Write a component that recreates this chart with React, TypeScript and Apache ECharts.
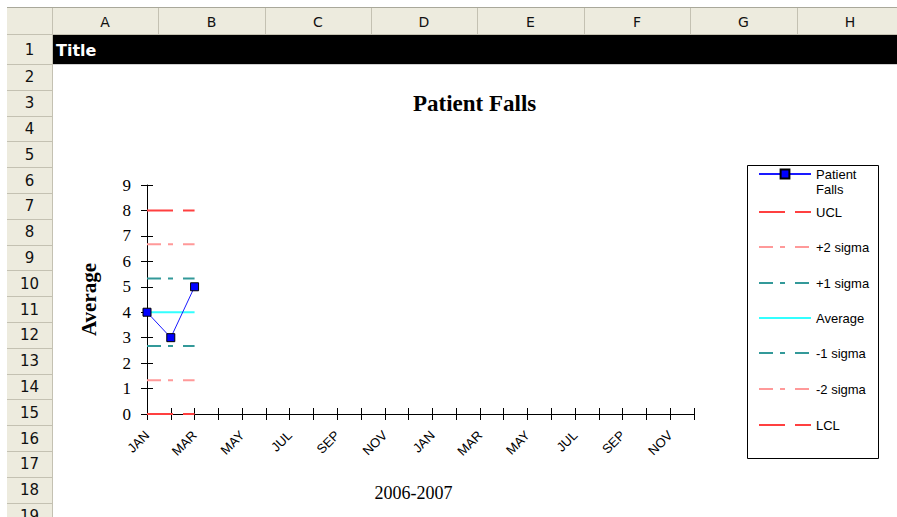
import React, { useEffect, useRef } from "react";
import * as echarts from "echarts";

const months = [
  "JAN", "FEB", "MAR", "APR", "MAY", "JUN", "JUL", "AUG", "SEP", "OCT", "NOV", "DEC",
  "JAN", "FEB", "MAR", "APR", "MAY", "JUN", "JUL", "AUG", "SEP", "OCT", "NOV", "DEC",
];
const patientFalls = [4, 3, 5];
const ucl = [8, 8, 8];
const plus2Sigma = [6.67, 6.67, 6.67];
const plus1Sigma = [5.33, 5.33, 5.33];
const average = [4, 4, 4];
const minus1Sigma = [2.67, 2.67, 2.67];
const minus2Sigma = [1.33, 1.33, 1.33];
const lcl = [0, 0, 0];
const columnLetters = ["A", "B", "C", "D", "E", "F", "G", "H"];
const rowNumbers = ["1", "2", "3", "4", "5", "6", "7", "8", "9", "10", "11", "12", "13", "14", "15", "16", "17", "18", "19"];

const SANS = "'Liberation Sans', Arial, sans-serif";
const HEADER_FONT = "'DejaVu Sans', Tahoma, sans-serif";
const SERIF = "'Liberation Serif', 'Times New Roman', serif";
const HEADER_BG = "#EDEBDE";
const HEADER_LINE = "#C4C1B2";

const RED = "#FF4040";
const PINK = "#FF9999";
const TEAL = "#339999";
const CYAN = "#33FFFF";
const LONG_DASH = [26, 10];
const DASH_DOT = [14, 7, 5, 10];

function buildFrame() {
  const g: any[] = [];
  const colEdges = [52, 158, 265, 371, 477, 584, 690, 797, 903];
  const rowEdges: number[] = [35, 64];
  for (let i = 1; i < rowNumbers.length; i++) rowEdges.push(64 + i * 25.8);
  g.push({ type: "rect", silent: true, shape: { x: 7, y: 8, width: 890, height: 27 }, style: { fill: HEADER_BG } });
  g.push({ type: "rect", silent: true, shape: { x: 7, y: 35, width: 45, height: 482 }, style: { fill: HEADER_BG } });
  g.push({ type: "rect", silent: true, shape: { x: 53, y: 35, width: 844, height: 29 }, style: { fill: "#000" } });
  g.push({ type: "line", silent: true, shape: { x1: 7, y1: 7.5, x2: 897, y2: 7.5 }, style: { stroke: "#A9A89A", lineWidth: 1 } });
  g.push({ type: "line", silent: true, shape: { x1: 7, y1: 34.5, x2: 897, y2: 34.5 }, style: { stroke: HEADER_LINE, lineWidth: 1 } });
  g.push({ type: "line", silent: true, shape: { x1: 52.5, y1: 8, x2: 52.5, y2: 517 }, style: { stroke: HEADER_LINE, lineWidth: 1 } });
  g.push({ type: "line", silent: true, shape: { x1: 53, y1: 64.5, x2: 897, y2: 64.5 }, style: { stroke: "#D0D0D0", lineWidth: 1 } });
  for (let i = 1; i < colEdges.length - 1; i++) {
    g.push({ type: "line", silent: true, shape: { x1: colEdges[i] + 0.5, y1: 8, x2: colEdges[i] + 0.5, y2: 34 }, style: { stroke: HEADER_LINE, lineWidth: 1 } });
  }
  columnLetters.forEach((c, i) => {
    g.push({
      type: "text", silent: true,
      style: { x: (colEdges[i] + colEdges[i + 1]) / 2, y: 21.5, text: c, fill: "#111", font: `14px ${HEADER_FONT}`, align: "center", verticalAlign: "middle" },
    });
  });
  rowNumbers.forEach((r, i) => {
    const y0 = rowEdges[i];
    const y1 = i + 1 < rowEdges.length ? rowEdges[i + 1] : y0 + 25.8;
    g.push({ type: "line", silent: true, shape: { x1: 7, y1: Math.round(y1) + 0.5, x2: 52, y2: Math.round(y1) + 0.5 }, style: { stroke: HEADER_LINE, lineWidth: 1 } });
    g.push({
      type: "text", silent: true,
      style: { x: 29.5, y: (y0 + y1) / 2 + 0.5, text: r, fill: "#111", font: `15px ${HEADER_FONT}`, align: "center", verticalAlign: "middle" },
    });
  });
  g.push({
    type: "text", silent: true,
    style: { x: 56, y: 50, text: "Title", fill: "#fff", font: `bold 16px ${HEADER_FONT}`, align: "left", verticalAlign: "middle" },
  });
  g.push({
    type: "rect", silent: true, z: 10,
    shape: { x: 747.5, y: 165.5, width: 131, height: 293 },
    style: { fill: "none", stroke: "#000", lineWidth: 1 },
  });
  return g;
}

const controlSeries = [
  { name: "UCL", data: ucl, color: RED, dash: LONG_DASH },
  { name: "+2 sigma", data: plus2Sigma, color: PINK, dash: DASH_DOT },
  { name: "+1 sigma", data: plus1Sigma, color: TEAL, dash: DASH_DOT },
  { name: "Average", data: average, color: CYAN, dash: "solid" },
  { name: "-1 sigma", data: minus1Sigma, color: TEAL, dash: DASH_DOT },
  { name: "-2 sigma", data: minus2Sigma, color: PINK, dash: DASH_DOT },
  { name: "LCL", data: lcl, color: RED, dash: LONG_DASH },
];

export default function App() {
  const ref = useRef<HTMLDivElement>(null);
  useEffect(() => {
    if (!ref.current) return;
    const chart = echarts.init(ref.current, null, { renderer: "svg" });
    const legendCenters = [211, 246, 282, 317, 352, 388, 424];
    const legendText = { fontFamily: SANS, fontSize: 13, color: "#000" };
    const legends: any[] = [
      {
        data: ["Patient Falls"], left: 758, top: 151.5, padding: 0, itemWidth: 52, itemHeight: 11, selectedMode: false,
        formatter: () => "\nPatient\nFalls",
        textStyle: { ...legendText, lineHeight: 15 },
      },
      ...controlSeries.map((s, i) => ({
        data: [s.name], left: 758, top: legendCenters[i] - 5.5, padding: 0, itemWidth: 52, itemHeight: 11, selectedMode: false,
        itemStyle: { opacity: 0 },
        textStyle: legendText,
      })),
    ];
    const series: any[] = [
      ...controlSeries.map((s) => ({
        name: s.name, type: "line", data: s.data, symbol: "none", z: 3,
        lineStyle: { color: s.color, width: 2, type: s.dash },
        itemStyle: { color: s.color },
      })),
      {
        name: "Patient Falls", type: "line", data: patientFalls, z: 5,
        symbol: "rect", symbolSize: 8,
        lineStyle: { color: "#1A1AFF", width: 1 },
        itemStyle: { color: "#0000FF", borderColor: "#000", borderWidth: 1 },
      },
    ];
    chart.setOption({
      animation: false,
      backgroundColor: "#fff",
      title: {
        text: "Patient Falls", left: 413, top: 92, padding: 0,
        textStyle: { fontFamily: SERIF, fontSize: 23, fontWeight: "bold", color: "#000" },
      },
      graphic: buildFrame(),
      legend: legends,
      grid: { left: 147, right: 203, top: 185, bottom: 103, containLabel: false },
      xAxis: [
        {
          type: "category", data: months, boundaryGap: false,
          name: "2006-2007", nameLocation: "middle", nameGap: 70,
          nameTextStyle: { fontFamily: SERIF, fontSize: 18, color: "#000", padding: [0, 14, 0, 0] },
          axisLine: { lineStyle: { color: "#000", width: 1 } },
          axisTick: { show: true, length: 6, interval: 0, alignWithLabel: true, lineStyle: { color: "#000" } },
          axisLabel: { interval: 1, rotate: 45, margin: 19, fontFamily: SANS, fontSize: 13, color: "#000" },
          splitLine: { show: false },
        },
        {
          type: "category", data: months, boundaryGap: false, position: "bottom",
          axisLine: { show: false },
          axisTick: { show: true, inside: true, length: 6, interval: 0, lineStyle: { color: "#000" } },
          axisLabel: { show: false },
          splitLine: { show: false },
        },
      ],
      yAxis: [
        {
          type: "value", min: 0, max: 9, interval: 1,
          name: "Average", nameLocation: "middle", nameGap: 48, nameRotate: 90,
          nameTextStyle: { fontFamily: SERIF, fontSize: 21, fontWeight: "bold", color: "#000" },
          axisLine: { show: true, lineStyle: { color: "#000", width: 1 } },
          axisTick: { show: true, length: 6, lineStyle: { color: "#000" } },
          axisLabel: { margin: 16, fontFamily: SERIF, fontSize: 17, color: "#000" },
          splitLine: { show: false },
        },
        {
          type: "value", min: 0, max: 9, interval: 1, position: "left",
          axisLine: { show: false },
          axisTick: { show: true, inside: true, length: 6, lineStyle: { color: "#000" } },
          axisLabel: { show: false },
          splitLine: { show: false },
        },
      ],
      series,
    });
    return () => chart.dispose();
  }, []);
  return (
    <div
      ref={ref}
      style={{ position: "fixed", left: 0, top: 0, width: 897, height: 517 }}
    />
  );
}
